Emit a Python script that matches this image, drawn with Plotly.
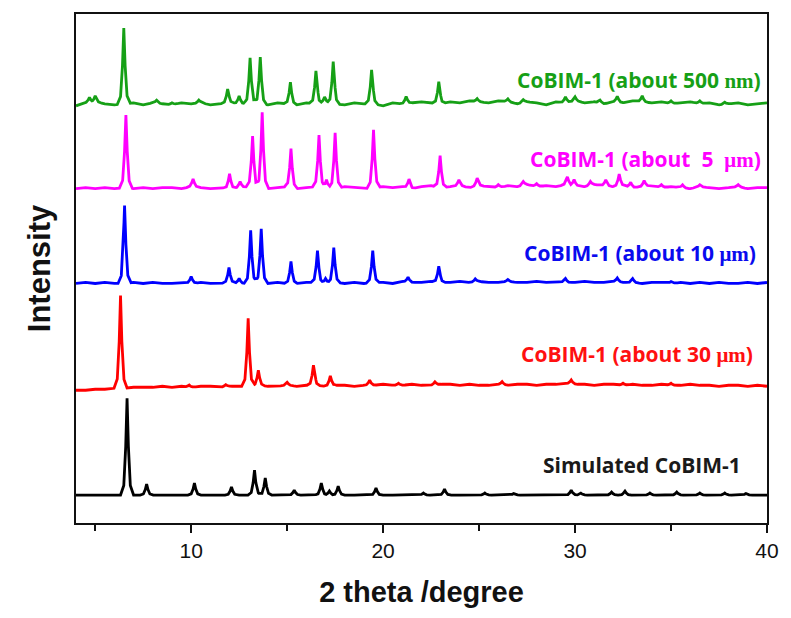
import numpy as np
import plotly.graph_objects as go

# ---------------- data ----------------
series_names = ["Simulated CoBIM-1", "CoBIM-1 (about 30 μm)", "CoBIM-1 (about 10 μm)",
                "CoBIM-1 (about  5  μm)", "CoBIM-1 (about 500 nm)"]

# peak positions (2θ, degree) and heights (a.u.)
sim_pos = [6.66, 7.68, 10.17, 12.1, 13.3, 13.86, 15.37, 16.78, 17.2, 17.66, 19.63, 22.1, 23.2,
           25.3, 26.8, 29.8, 30.3, 31.9, 32.6, 33.9, 35.3, 36.5, 37.8, 38.9]
sim_int = [97, 11, 12, 8, 25, 17, 5, 12, 4, 9, 7, 2, 6, 2, 1.5, 5, 2, 3, 4, 2, 3, 2, 2, 1.5]

um30_pos = [6.32, 9.9, 11.8, 12.97, 13.5, 15.0, 16.37, 17.25, 19.3, 20.8, 22.7, 26.2, 29.8, 32.5, 35.0]
um30_int = [93, 2, 2, 68, 15, 3, 20, 10, 5, 2, 3, 3, 4, 2, 2]

um10_pos = [6.53, 10.0, 11.97, 12.5, 13.1, 13.65, 15.2, 16.58, 17.0, 17.43, 19.46, 21.3, 22.9,
            24.8, 26.5, 29.5, 32.2, 33.0, 35.0]
um10_int = [78, 7, 15, 5, 53, 54, 22, 32, 5, 35, 32, 5, 16, 3, 2, 4, 4, 4, 2]

um5_pos = [6.6, 10.1, 12.0, 12.55, 13.2, 13.7, 15.2, 16.66, 17.05, 17.5, 19.5, 21.35, 22.97, 23.95,
           24.9, 26.0, 27.3, 28.0, 29.6, 29.95, 30.8, 31.6, 32.3, 32.9, 33.6, 34.5, 35.6, 36.5, 38.5]
um5_int = [73, 8, 15, 6, 51, 76, 39, 52, 8, 56, 58, 9, 32, 6, 8, 3, 4, 3, 8, 6, 4, 6, 12, 5, 6, 3, 3, 2, 2]

nm500_pos = [4.7, 5.0, 6.49, 8.2, 9.0, 10.4, 11.9, 12.5, 13.07, 13.6, 15.17, 16.5, 16.95, 17.4, 19.4,
             21.2, 22.9, 24.9, 26.5, 27.3, 29.5, 30.0, 31.3, 32.2, 33.5, 35.0, 36.5, 37.8]
nm500_int = [5, 6, 76, 3, 2, 3, 14, 8, 46, 47, 22, 33, 6, 42, 34, 7, 22, 3, 3, 3, 6, 4, 3, 6, 6, 3, 3, 2]

# background wiggles (a.u.), sampled every 0.5 degree from 4 to 40
bg_x = [4.0 + 0.5 * i for i in range(73)]
sim_bg = [0] * 73
um30_bg = [-3, -3, -2, -2, -1, -1, 0, 0, 0, 1, 0, 1, 0, 1, 1, 0, 1, 1, 1, 2, 1, 1, 2, 1, 2, 2, 1, 2, 2, 1,
           2, 2, 3, 2, 2, 3, 2, 2, 3, 3, 2, 3, 2, 2, 3, 2, 3, 3, 2, 3, 3, 4, 3, 3, 2, 3, 3, 2, 3, 2,
           2, 3, 2, 2, 3, 2, 2, 1, 2, 2, 1, 2, 1]
um10_bg = [0, 1, 0, 1, 0, 0, 1, 0, 1, 0, 0, 1, 0, 1, 0, 0, 1, 0, 0, 1, 0, 1, 0, 0, 1, 1, 0, 1, 0, 1,
           0, 1, 1, 0, 2, 1, 1, 2, 1, 1, 2, 1, 2, 1, 1, 2, 1, 1, 2, 1, 2, 1, 1, 2, 1, 1, 2, 1, 1, 0,
           1, 1, 0, 1, 0, 1, 0, 1, 0, 0, 1, 0, 1]
um5_bg = [0, 1, 0, 1, 0, 1, 0, 1, 0, 1, 1, 0, 2, 1, 0, 1, 0, 1, 2, 1, 0, 1, 2, 0, 1, 2, 1, 0, 2, 1,
          0, 1, 2, 1, 2, 0, 2, 3, 1, 2, 3, 1, 3, 2, 1, 3, 2, 4, 2, 3, 2, 4, 3, 2, 4, 3, 2, 3, 1, 2,
          3, 1, 2, 1, 0, 2, 1, 0, 1, 2, 0, 1, 1]
nm500_bg = [-2, 1, 2, 0, -1, 0, 1, -1, 1, 0, -1, 1, 0, 1, -1, 0, 1, 0, 0, 0, -1, 1, 0, -1, 1, 0, 1, 0,
            -1, 1, 0, 0, -2, 1, 0, 1, 2, 1, 0, 2, 1, 3, 2, 1, 3, 2, 0, 2, 1, -1, 2, 1, 3, 1, 2, 0,
            2, 1, 3, 2, 1, 2, 0, 1, 2, 0, 1, -1, 0, 1, -1, 0, 1]

x_ticks = [10, 20, 30, 40]

# ---------------- styling / layout ----------------
offsets = [28, 136, 240, 335, 420]
colors = ["#000000", "#FF0000", "#0000FF", "#FF00FF", "#16A016"]
label_colors = ["#1a1a1a", "#FF1010", "#0A0AEE", "#FF00FF", "#16A016"]
label_y = [58, 169, 271, 365, 444]
label_x = [751, 763, 766, 771, 771]

shape_dx = [-0.34, -0.17, -0.07, 0.0, 0.07, 0.17, 0.34]
shape_fr = [0.0, 0.1, 0.5, 1.0, 0.5, 0.1, 0.0]


def pattern(pos, inten, bg):
    xs = set(bg_x)
    for p in pos:
        for d in shape_dx:
            xs.add(round(p + d, 4))
    xs = np.array(sorted(x for x in xs if 4.0 <= x <= 40.0))
    y = np.interp(xs, bg_x, bg).astype(float)
    pk = np.zeros_like(xs)
    for p, h in zip(pos, inten):
        prof = np.interp(xs, [p + d for d in shape_dx], [h * f for f in shape_fr], left=0, right=0)
        pk = np.maximum(pk, prof)
    return xs, y + pk


data = [(sim_pos, sim_int, sim_bg), (um30_pos, um30_int, um30_bg), (um10_pos, um10_int, um10_bg),
        (um5_pos, um5_int, um5_bg), (nm500_pos, nm500_int, nm500_bg)]

fig = go.Figure()
for i, (pos, inten, bg) in enumerate(data):
    xs, ys = pattern(pos, inten, bg)
    fig.add_trace(go.Scatter(x=xs, y=ys + offsets[i], mode="lines",
                             line=dict(color=colors[i], width=2.8), name=series_names[i],
                             showlegend=False, hoverinfo="skip"))

serif = "font-family:'Liberation Serif','DejaVu Serif',serif"
label_text = [
    "Simulated CoBIM-1",
    "CoBIM-1 (about 30 <span style=\"" + serif + "\">μm</span>)",
    "CoBIM-1 (about 10 <span style=\"" + serif + "\">μm</span>)",
    "CoBIM-1 (about\u00a0\u00a05\u00a0\u00a0<span style=\"" + serif + "\">μm</span>)",
    "CoBIM-1 (about 500 <span style=\"" + serif + "\">nm</span>)",
]

L, R = 76, 16
W = 791 - L - R
for i in range(5):
    fig.add_annotation(x=(label_x[i] - L) / W, y=label_y[i], xref="paper", yref="y",
                       text="<b>" + label_text[i] + "</b>", showarrow=False,
                       xanchor="right", yanchor="middle",
                       font=dict(family="Open Sans, Noto Sans, sans-serif", size=21,
                                 color=label_colors[i]))

fig.update_layout(
    width=791, height=618,
    margin=dict(l=L, r=R, t=13, b=95),
    paper_bgcolor="white", plot_bgcolor="white",
    xaxis=dict(range=[4, 40], tickvals=x_ticks, ticktext=[str(t) for t in x_ticks],
               ticks="outside", ticklen=8, tickwidth=1.5, tickcolor="#111",
               minor=dict(tickvals=[5, 15, 25, 35], ticks="outside", ticklen=6, tickwidth=1.5,
                          tickcolor="#111"),
               showline=True, linecolor="#111", linewidth=2, mirror=True,
               showgrid=False, zeroline=False,
               tickfont=dict(family="Liberation Sans Narrow, Liberation Sans, Arial", size=21,
                             color="#111"),
               title=dict(text="<b>2 theta /degree</b>", standoff=20,
                          font=dict(family="Liberation Sans Narrow, Liberation Sans, Arial",
                                    size=29, color="#111"))),
    yaxis=dict(range=[0, 510], showticklabels=False, ticks="",
               showline=True, linecolor="#111", linewidth=2, mirror=True,
               showgrid=False, zeroline=False,
               title=dict(text="<b>Intensity</b>", standoff=14,
                          font=dict(family="Liberation Sans, Arial", size=31, color="#111"))),
)

fig.write_html("out.html")
